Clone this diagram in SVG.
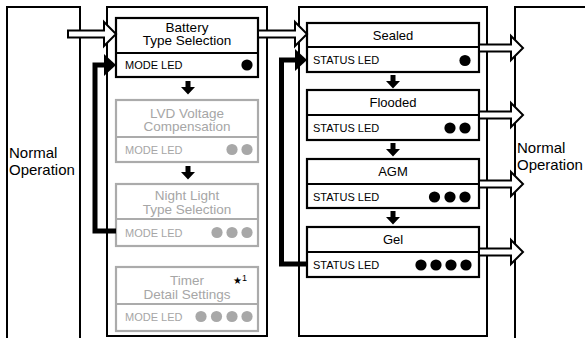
<svg xmlns="http://www.w3.org/2000/svg" width="585" height="338" viewBox="0 0 585 338">
<style>
.frame{fill:#fff;stroke:#000;stroke-width:2}
.open{fill:none;stroke:#000;stroke-width:2}
.box{fill:#fff;stroke:#000;stroke-width:2.2}
.gbox{fill:#fff;stroke:#ababab;stroke-width:2.2}
.sep{stroke:#000;stroke-width:2.2}
.gsep{stroke:#ababab;stroke-width:2.2}
.t{font-family:"Liberation Sans",Arial,sans-serif;fill:#000}
.g{font-family:"Liberation Sans",Arial,sans-serif;fill:#a6a6a6}
.title{font-size:13.5px;text-anchor:middle}
.rtitle{font-size:13px;text-anchor:middle}
.led{font-size:11px}
.big{font-size:15px}
.dot{fill:#000}
.gdot{fill:#a8a8a8}
.hollow{fill:#fff;stroke:#000;stroke-width:2;stroke-linejoin:miter}
.thick{fill:none;stroke:#000;stroke-width:5}
.down{fill:#000}
</style>

<g id="normal-left">
<path class="open" d="M7,340 V7 H80 V340"/>
<text class="t big" x="9" y="158">Normal</text>
<text class="t big" x="9" y="175">Operation</text>
</g>

<g id="column-mode">
<rect class="frame" x="107" y="7" width="160" height="329"/>
</g>

<g id="column-status">
<rect class="frame" x="299" y="7" width="188" height="329"/>
</g>

<g id="normal-right">
<path class="open" d="M515,340 V7 H590"/>
<text class="t big" x="517" y="153">Normal</text>
<text class="t big" x="517" y="170">Operation</text>
</g>

<g id="battery-type">
<rect class="box" x="116" y="18" width="142" height="59"/>
<line class="sep" x1="116" y1="53" x2="258" y2="53"/>
<text class="t title" x="187" y="31.5">Battery</text>
<text class="t title" x="187" y="45">Type Selection</text>
<text class="t led" x="125" y="69">MODE LED</text>
<circle class="dot" cx="247" cy="65" r="5.6"/>
</g>

<g id="lvd">
<rect class="gbox" x="116" y="100" width="142" height="62"/>
<line class="gsep" x1="116" y1="137" x2="258" y2="137"/>
<text class="g title" x="187" y="117.5">LVD Voltage</text>
<text class="g title" x="187" y="131">Compensation</text>
<text class="g led" x="125" y="154">MODE LED</text>
<circle class="gdot" cx="232" cy="149.5" r="5.6"/>
<circle class="gdot" cx="247" cy="149.5" r="5.6"/>
</g>

<g id="night-light">
<rect class="gbox" x="116" y="184" width="142" height="62"/>
<line class="gsep" x1="116" y1="219" x2="258" y2="219"/>
<text class="g title" x="187" y="200">Night Light</text>
<text class="g title" x="187" y="213.5">Type Selection</text>
<text class="g led" x="125" y="237">MODE LED</text>
<circle class="gdot" cx="217" cy="232.5" r="5.6"/>
<circle class="gdot" cx="232" cy="232.5" r="5.6"/>
<circle class="gdot" cx="247" cy="232.5" r="5.6"/>
</g>

<g id="timer">
<rect class="gbox" x="116" y="267" width="142" height="64"/>
<line class="gsep" x1="116" y1="304" x2="258" y2="304"/>
<text class="g title" x="187" y="285">Timer</text>
<text class="g title" x="187" y="298.5">Detail Settings</text>
<text class="t" x="233" y="284" style="font-size:10px">★<tspan dy="-3" style="font-size:9px">1</tspan></text>
<text class="g led" x="125" y="321">MODE LED</text>
<circle class="gdot" cx="201" cy="316.5" r="5.6"/>
<circle class="gdot" cx="216.5" cy="316.5" r="5.6"/>
<circle class="gdot" cx="232" cy="316.5" r="5.6"/>
<circle class="gdot" cx="247" cy="316.5" r="5.6"/>
</g>

<g id="sealed">
<rect class="box" x="307" y="23" width="172" height="49"/>
<line class="sep" x1="307" y1="47" x2="479" y2="47"/>
<text class="t rtitle" x="393" y="39.5">Sealed</text>
<text class="t led" x="313" y="64">STATUS LED</text>
<circle class="dot" cx="465" cy="60.5" r="5.6"/>
</g>

<g id="flooded">
<rect class="box" x="307" y="90" width="172" height="50"/>
<line class="sep" x1="307" y1="115" x2="479" y2="115"/>
<text class="t rtitle" x="393" y="107">Flooded</text>
<text class="t led" x="313" y="132">STATUS LED</text>
<circle class="dot" cx="450" cy="128" r="5.6"/>
<circle class="dot" cx="465" cy="128" r="5.6"/>
</g>

<g id="agm">
<rect class="box" x="307" y="159" width="172" height="49"/>
<line class="sep" x1="307" y1="184" x2="479" y2="184"/>
<text class="t rtitle" x="393" y="176">AGM</text>
<text class="t led" x="313" y="200.5">STATUS LED</text>
<circle class="dot" cx="434.5" cy="197" r="5.6"/>
<circle class="dot" cx="450" cy="197" r="5.6"/>
<circle class="dot" cx="465" cy="197" r="5.6"/>
</g>

<g id="gel">
<rect class="box" x="307" y="227" width="172" height="50"/>
<line class="sep" x1="307" y1="252" x2="479" y2="252"/>
<text class="t rtitle" x="393" y="244">Gel</text>
<text class="t led" x="313" y="268.5">STATUS LED</text>
<circle class="dot" cx="421" cy="265" r="5.6"/>
<circle class="dot" cx="436" cy="265" r="5.6"/>
<circle class="dot" cx="451" cy="265" r="5.6"/>
<circle class="dot" cx="466" cy="265" r="5.6"/>
</g>

<g id="connectors">
<polygon class="hollow" points="68,30.5 104,30.5 104,22 116,34 104,46 104,37.5 68,37.5"/>
<polygon class="hollow" points="258,30.5 295,30.5 295,22 307,34 295,46 295,37.5 258,37.5"/>
<polygon class="hollow" points="479,44.5 511,44.5 511,36 523,48 511,60 511,51.5 479,51.5"/>
<polygon class="hollow" points="479,111.5 511,111.5 511,103 523,115 511,127 511,118.5 479,118.5"/>
<polygon class="hollow" points="479,180.5 511,180.5 511,172 523,184 511,196 511,187.5 479,187.5"/>
<polygon class="hollow" points="479,248.5 511,248.5 511,240 523,252 511,264 511,255.5 479,255.5"/>
<path class="thick" d="M116,231 H95 V65 H106"/>
<polygon class="down" points="104,54 116,65 104,76"/>
<path class="thick" d="M307,264 H281.5 V60 H297"/>
<polygon class="down" points="295,49 307,60 295,71"/>
<polygon class="down" points="185.5,81 190.5,81 190.5,87 195,87 188,94.5 181,87 185.5,87"/>
<polygon class="down" points="185.5,166 190.5,166 190.5,172 195,172 188,179.5 181,172 185.5,172"/>
<polygon class="down" points="390.5,75 395.5,75 395.5,81 400,81 393,88.5 386,81 390.5,81"/>
<polygon class="down" points="390.5,143 395.5,143 395.5,149 400,149 393,156.5 386,149 390.5,149"/>
<polygon class="down" points="390.5,211 395.5,211 395.5,217 400,217 393,224.5 386,217 390.5,217"/>
</g>
</svg>
